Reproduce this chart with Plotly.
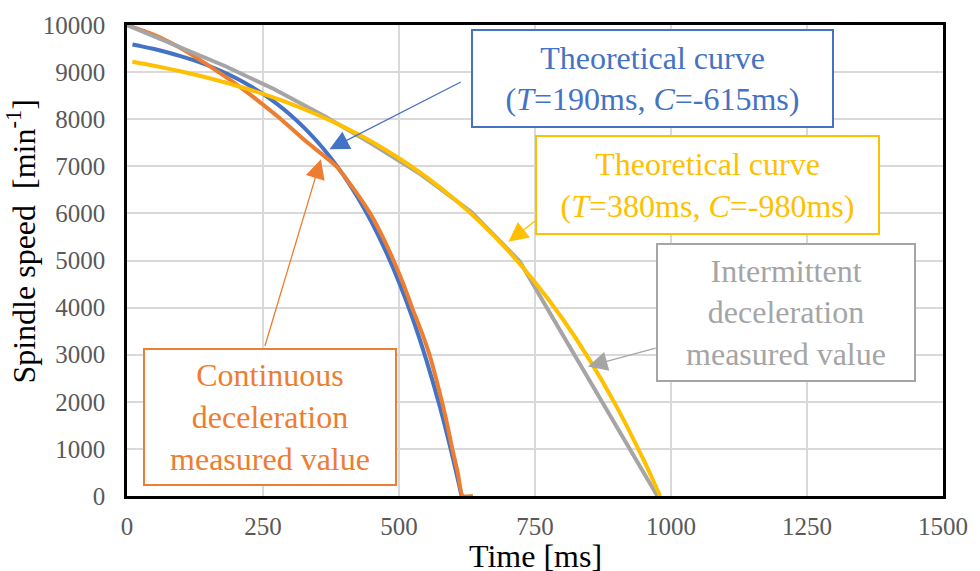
import plotly.graph_objects as go

# ---- data ----
t_blue = [10, 25, 50, 75, 100, 125, 150, 175, 200, 225, 250, 275, 300, 325, 350, 375, 400,
          425, 450, 475, 500, 525, 550, 575, 600, 610, 615]
n_blue = [9586, 9552, 9489, 9417, 9335, 9242, 9135, 9013, 8874, 8716, 8536, 8329, 8095, 7827,
          7521, 7172, 6775, 6321, 5804, 5214, 4540, 3774, 2896, 1898, 760, 260, 0]

t_orange = [0, 50, 100, 142, 168, 200, 240, 283, 330, 385, 418, 447, 470, 490, 508, 524, 541,
            556, 568, 579, 589, 598, 608, 617, 636]
n_orange = [10000, 9790, 9500, 9200, 9000, 8750, 8400, 8000, 7520, 7000, 6500, 6000, 5500,
            5000, 4500, 4000, 3500, 3000, 2500, 2000, 1500, 1000, 500, 0, 0]

t_gray = [0, 90, 180, 270, 365, 450, 540, 633, 722, 800, 880, 975]
n_gray = [10000, 9570, 9130, 8640, 8050, 7480, 6830, 6030, 4980, 3440, 1870, 0]

t_yellow = [10, 50, 100, 150, 200, 250, 300, 350, 400, 450, 500, 550, 600, 650, 700, 750, 800,
            850, 900, 950, 965, 980]
n_yellow = [9221, 9135, 9013, 8874, 8716, 8536, 8329, 8095, 7827, 7521, 7172, 6775, 6321, 5804,
            5214, 4540, 3774, 2896, 1898, 759, 387, 0]

x_ticks = [0, 250, 500, 750, 1000, 1250, 1500]
y_ticks = [0, 1000, 2000, 3000, 4000, 5000, 6000, 7000, 8000, 9000, 10000]

BLUE, ORANGE, GRAY, YELLOW = "#4472C4", "#ED7D31", "#A5A5A5", "#FFC000"
FONT = "Liberation Serif, Times New Roman, serif"

fig = go.Figure()
fig.add_trace(go.Scatter(x=t_blue, y=n_blue, mode="lines",
                         line=dict(color=BLUE, width=4, shape="spline", smoothing=0.6)))
fig.add_trace(go.Scatter(x=t_orange, y=n_orange, mode="lines",
                         line=dict(color=ORANGE, width=4, shape="spline", smoothing=0.5)))
fig.add_trace(go.Scatter(x=t_gray, y=n_gray, mode="lines",
                         line=dict(color=GRAY, width=4)))
fig.add_trace(go.Scatter(x=t_yellow, y=n_yellow, mode="lines",
                         line=dict(color=YELLOW, width=4, shape="spline", smoothing=0.6)))

# ---- boxed labels ----
boxes = [
    ("Theoretical curve<br>(<i>T</i>=190ms, <i>C</i>=-615ms)", BLUE, 966, 8856, 363, 99),
    ("Theoretical curve<br>(<i>T</i>=380ms, <i>C</i>=-980ms)", YELLOW, 1068, 6600, 345, 100),
    ("Intermittent<br>deceleration<br>measured value", GRAY, 1211, 3898, 260, 139),
    ("Continuous<br>deceleration<br>measured value", ORANGE, 262, 1684, 254, 138),
]
for text, col, x, y, w, h in boxes:
    fig.add_annotation(x=x, y=y, xref="x", yref="y", text=text, showarrow=False,
                       font=dict(family=FONT, size=32, color=col),
                       bordercolor=col, borderwidth=2, borderpad=0,
                       bgcolor="white", width=w - 4, height=h - 4,
                       xanchor="center", yanchor="middle", align="center")

# ---- arrows (tail -> tip) ----
arrows = [
    (BLUE, 616.4, 8807, 372.2, 7362),
    (ORANGE, 252.7, 3153, 356.4, 7150),
    (YELLOW, 754.5, 5879, 701.3, 5398),
    (GRAY, 974.5, 3146, 847.3, 2750),
]
for col, tx, ty, hx, hy in arrows:
    fig.add_annotation(x=hx, y=hy, ax=tx, ay=ty, xref="x", yref="y", axref="x", ayref="y",
                       text="", showarrow=True, arrowhead=2, arrowsize=3, arrowwidth=1.3,
                       arrowcolor=col)

# ---- axis titles ----
fig.add_annotation(x=0.5, y=-0.128, xref="paper", yref="paper", text="Time [ms]",
                   showarrow=False, font=dict(family=FONT, size=32, color="black"),
                   xanchor="center", yanchor="middle")
fig.add_annotation(x=-0.13, y=0.54, xref="paper", yref="paper",
                   text="Spindle speed\u00a0\u00a0[min<sup>-1</sup>]", textangle=-90,
                   showarrow=False, font=dict(family=FONT, size=32, color="black"),
                   xanchor="center", yanchor="middle")

axis_common = dict(showgrid=True, gridcolor="#D9D9D9", gridwidth=1.5, zeroline=False,
                   showline=True, mirror=True, linecolor="black", linewidth=2.5,
                   ticks="", tickfont=dict(family=FONT, size=25, color="#595959"))
fig.update_xaxes(range=[0, 1500], tickvals=x_ticks, ticktext=[str(v) for v in x_ticks],
                 ticklabelstandoff=6, **axis_common)
fig.update_yaxes(range=[0, 10000], tickvals=y_ticks, ticktext=[str(v) for v in y_ticks],
                 ticklabelstandoff=14, **axis_common)

fig.update_layout(width=980, height=571, showlegend=False,
                  margin=dict(l=127, r=28, t=24, b=75),
                  plot_bgcolor="white", paper_bgcolor="white",
                  font=dict(family=FONT))

fig.write_html("out.html")
